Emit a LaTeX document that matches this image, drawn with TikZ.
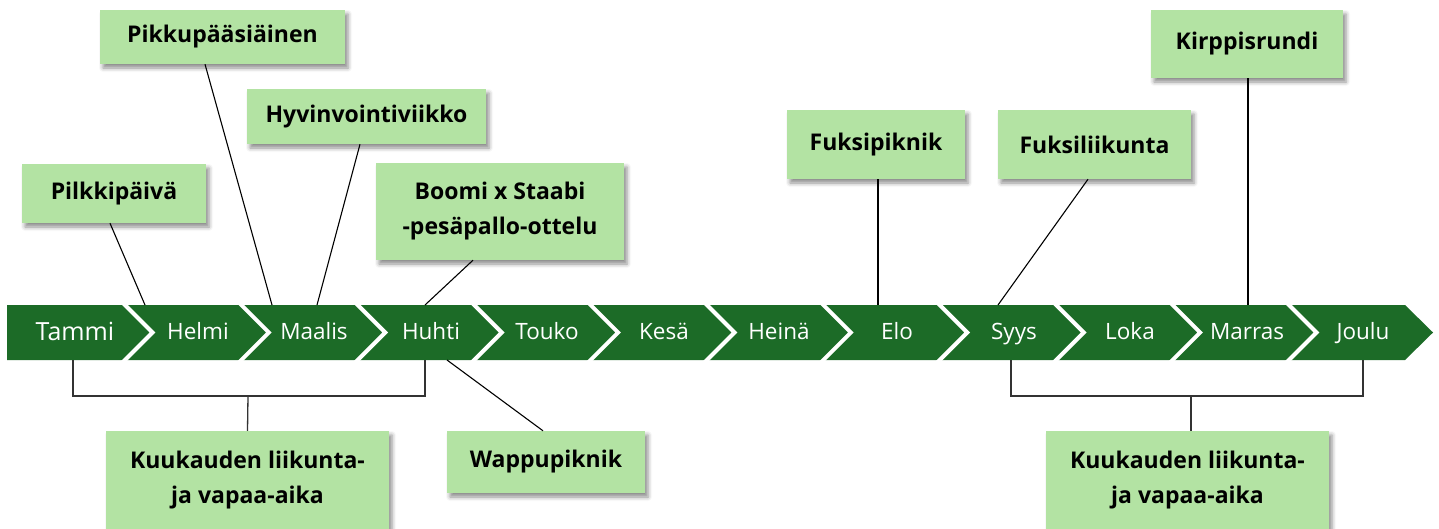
\documentclass[tikz,border=0pt]{standalone}
\usepackage{fontspec}
\setmainfont{Open Sans}
\usetikzlibrary{shadows.blur,calc}
\definecolor{stripgreen}{HTML}{1C6B27}
\definecolor{boxgreen}{HTML}{B3E3A3}
\tikzset{
 evbox/.style={fill=boxgreen, inner sep=0pt, align=center,
   font=\bfseries\fontsize{23}{35}\selectfont,
   blur shadow={shadow xshift=3pt, shadow yshift=-4pt, shadow blur radius=4pt, shadow opacity=45}},
 month/.style={text=white, anchor=base, inner sep=0pt, font=\fontsize{22.5}{27}\selectfont},
 link/.style={draw=black, line width=1.1pt},
 bracketline/.style={draw=black!80, line width=1.3pt},
 gapline/.style={draw=white, line width=4pt},
}
\begin{document}
\begin{tikzpicture}[x=1pt,y=-1pt]
\useasboundingbox (0,0) rectangle (1439,528);
% timeline strip
\fill[stripgreen] (7,305) -- (1405,305) -- (1433,332.5) -- (1405,360) -- (7,360) -- cycle;
\foreach \k in {0,...,10}{
  \draw[gapline] ({125+116.4*\k-5},300) -- ({125+116.4*\k+27.5},332.5) -- ({125+116.4*\k-5},365);
}
% month labels
\node[month, font=\fontsize{25}{30}\selectfont] (m1) at (75,340) {Tammi};
\foreach \name/\x [count=\i from 2] in {Helmi/198,Maalis/314,Huhti/431,Touko/547,Kes\"a/664,Hein\"a/779,Elo/897,Syys/1014,Loka/1130,Marras/1247,Joulu/1363}{
  \node[month] (m\i) at (\x,339.5) {\name};
}
% anchor points on the strip
\coordinate (p1) at (145,305);
\coordinate (p2) at (272,305);
\coordinate (p3) at (317,305);
\coordinate (p4) at (425,305);
\coordinate (p5) at (878,305);
\coordinate (p6) at (998,305);
\coordinate (p7) at (1248,305);
\coordinate (p8) at (447,360);
\coordinate (bl1) at (73,360);
\coordinate (bl2) at (425,360);
\coordinate (br1) at (1011,360);
\coordinate (br2) at (1363,360);
% event boxes
\node[evbox, minimum width=184, minimum height=59] (pilk) at (114,193.5) {Pilkkip\"aiv\"a};
\node[evbox, minimum width=245, minimum height=54] (pikku) at (222.5,37) {Pikkup\"a\"asi\"ainen};
\node[evbox, minimum width=239, minimum height=55] (hyv) at (366.5,116.5) {Hyvinvointiviikko};
\node[evbox, minimum width=248, minimum height=97] (boomi) at (500,211.5) {Boomi x Staabi\\-pes\"apallo-ottelu};
\node[evbox, minimum width=178, minimum height=69] (fpik) at (876,144.5) {Fuksipiknik};
\node[evbox, minimum width=193, minimum height=69] (fliik) at (1094.5,144.5) {Fuksiliikunta};
\node[evbox, minimum width=192, minimum height=68] (kirp) at (1247,44) {Kirppisrundi};
\node[evbox, minimum width=198, minimum height=62] (wappu) at (546,462) {Wappupiknik};
\node[evbox, minimum width=283, minimum height=98] (kuuL) at (247.5,480) {Kuukauden liikunta-\\ja vapaa-aika};
\node[evbox, minimum width=283, minimum height=98] (kuuR) at (1187.5,480) {Kuukauden liikunta-\\ja vapaa-aika};
% connectors
\draw[link] ([xshift=-4]pilk.south) -- (p1);
\draw[link] ([xshift=-17.5]pikku.south) -- (p2);
\draw[link] ([xshift=-6.5]hyv.south) -- (p3);
\draw[link] ([xshift=-27]boomi.south) -- (p4);
\draw[link] ([xshift=2]fpik.south) -- (p5);
\draw[link] ([xshift=-6.5]fliik.south) -- (p6);
\draw[link] ([xshift=1]kirp.south) -- (p7);
\draw[link] (p8) -- ([xshift=-3]wappu.north);
% brackets
\draw[bracketline] (bl1) -- (73,396) -- (425,396) -- (bl2);
\draw[bracketline] (248,396) -- (kuuL.north);
\draw[bracketline] (br1) -- (1011,396) -- (1363,396) -- (br2);
\draw[bracketline] (1191,396) -- ([xshift=3.5]kuuR.north);
\end{tikzpicture}
\end{document}
